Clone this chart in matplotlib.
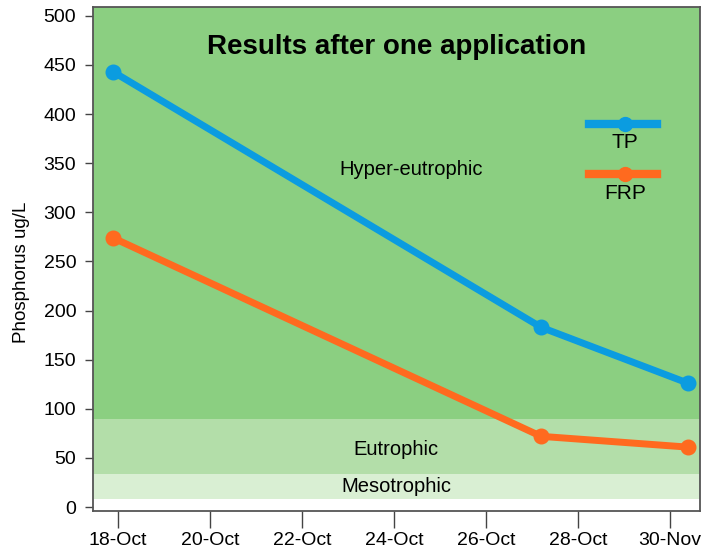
import matplotlib.pyplot as plt
from matplotlib.lines import Line2D

plt.rcParams['font.family'] = ['Liberation Sans', 'DejaVu Sans']

# data (x = day of October)
sample_days = [17.9, 27.2, 30.4]
tp_values = [443, 183, 126]
frp_values = [274, 72, 61]

tick_days = [18, 20, 22, 24, 26, 28, 30]
tick_labels = ['18-Oct', '20-Oct', '22-Oct', '24-Oct', '26-Oct', '28-Oct', '30-Nov']

# trophic bands (ug/L)
band_names = ['Mesotrophic', 'Eutrophic', 'Hyper-eutrophic']
band_edges = [8, 34, 90, 509]
band_colors = ['#d9efd3', '#b3dea9', '#8bcf81']

BLUE = '#0b9ce0'
ORANGE = '#ff6a1f'

fig = plt.figure(figsize=(7.2, 5.54), dpi=100)
ax = fig.add_axes([0.129, 0.0776, 0.843, 0.9098])

for lo, hi, c in zip(band_edges[:-1], band_edges[1:], band_colors):
    ax.axhspan(lo, hi, color=c, lw=0, zorder=0)

ax.plot(sample_days, tp_values, color=BLUE, lw=5, marker='o', ms=10.5, zorder=3)
ax.plot(sample_days, frp_values, color=ORANGE, lw=5, marker='o', ms=10.5, zorder=3)

ax.set_xlim(17.46, 30.65)
ax.set_ylim(-4, 509)
ax.set_xticks(tick_days)
ax.set_xticklabels(tick_labels, fontsize=14)
ax.set_yticks(range(0, 501, 50))
ax.tick_params(axis='y', labelsize=14, length=6, width=1, color='#444444', pad=6)
ax.tick_params(axis='x', length=12, width=1, color='#444444', pad=3)
for s in ax.spines.values():
    s.set_color('#555555')
    s.set_linewidth(1.3)
ax.set_ylabel('Phosphorus ug/L', fontsize=13.5)
ax.yaxis.set_label_coords(-0.103, 0.474)

ax.text(0.5, 0.921, 'Results after one application', transform=ax.transAxes,
        ha='center', va='center', fontsize=20, fontweight='bold')
ax.text(0.525, 0.677, 'Hyper-eutrophic', transform=ax.transAxes,
        ha='center', va='center', fontsize=14.5)
ax.text(0.5, 0.123, 'Eutrophic', transform=ax.transAxes,
        ha='center', va='center', fontsize=14.5)
ax.text(0.5, 0.048, 'Mesotrophic', transform=ax.transAxes,
        ha='center', va='center', fontsize=14.5)

# legend: handle on top, label below
for name, col, ypos, ytxt in [('TP', BLUE, 0.768, 0.732),
                              ('FRP', ORANGE, 0.669, 0.629)]:
    ax.add_line(Line2D([0.817, 0.929], [ypos, ypos], transform=ax.transAxes,
                       color=col, lw=6, zorder=4))
    ax.add_line(Line2D([0.877], [ypos], transform=ax.transAxes, color=col,
                       marker='o', ms=10, zorder=5))
    ax.text(0.877, ytxt, name, transform=ax.transAxes,
            ha='center', va='center', fontsize=15)

fig.savefig('out.png')
